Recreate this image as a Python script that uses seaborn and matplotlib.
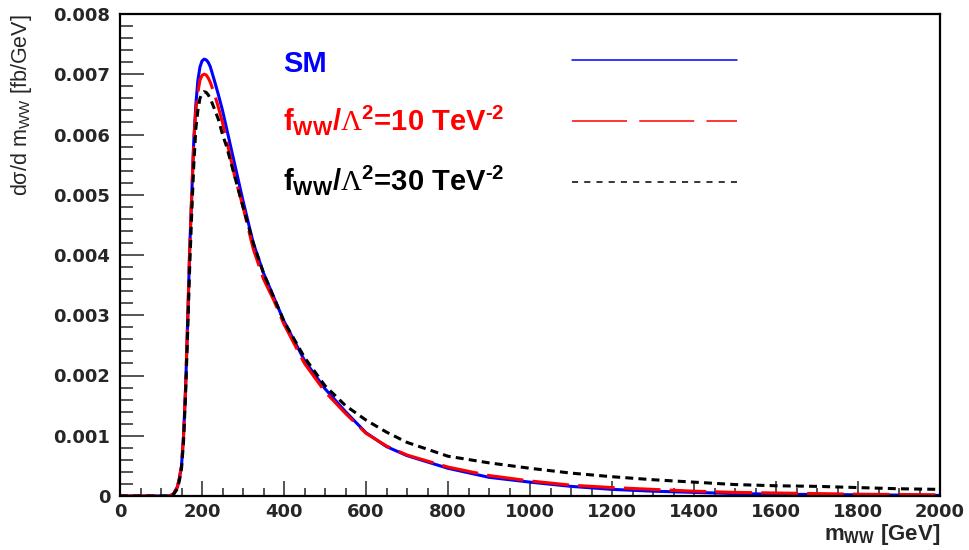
import matplotlib
matplotlib.use("Agg")
import matplotlib.pyplot as plt
from matplotlib.ticker import MultipleLocator, FuncFormatter
import pandas as pd
import seaborn as sns

# WW invariant-mass bins [GeV]
m_ww = [0, 100, 120, 130, 140, 145, 150, 155, 160, 165, 170, 175, 180, 185, 190,
        195, 200, 205, 210, 215, 220, 230, 240, 250, 260, 280, 300, 325, 350,
        375, 400, 450, 500, 550, 600, 650, 700, 800, 900, 1000, 1100, 1200,
        1300, 1400, 1500, 1600, 1700, 1800, 1900, 2000]

# dsigma/dm_WW [fb/GeV]
sm = [0, 0, 0, 0.00003, 0.00015, 0.0003, 0.0005, 0.0010, 0.0018, 0.0029, 0.0041,
      0.0050, 0.0059, 0.0065, 0.0069, 0.00712, 0.00722, 0.00725, 0.00724,
      0.0072, 0.00713, 0.0069, 0.00666, 0.0064, 0.0061, 0.0055, 0.0049, 0.0042,
      0.0037, 0.0033, 0.0029, 0.00225, 0.00178, 0.0014, 0.00105, 0.00082,
      0.00067, 0.00046, 0.00031, 0.00023, 0.00016, 0.00011, 0.00008, 0.00006,
      0.00004, 0.00003, 0.000025, 0.00002, 0.000015, 0.00001]

fww10 = [0, 0, 0, 0.00003, 0.00015, 0.0003, 0.0005, 0.0010, 0.0018, 0.0029, 0.0041,
         0.0050, 0.0059, 0.0064, 0.0067, 0.0069, 0.00698, 0.0070, 0.00699,
         0.00694, 0.00687, 0.00668, 0.00645, 0.0062, 0.0059, 0.0053, 0.0048,
         0.0041, 0.0036, 0.00325, 0.00285, 0.0022, 0.00173, 0.00137, 0.00104,
         0.00083, 0.00068, 0.00048, 0.00034, 0.00025, 0.00018, 0.00014, 0.00011,
         0.00008, 0.00006, 0.00005, 0.00004, 0.00003, 0.000025, 0.00002]

fww30 = [0, 0, 0, 0.00002, 0.00012, 0.00026, 0.00045, 0.0009, 0.0017, 0.0027, 0.0038,
         0.0047, 0.0055, 0.0061, 0.0064, 0.0066, 0.00668, 0.00671, 0.0067,
         0.00666, 0.0066, 0.00643, 0.00625, 0.0060, 0.0058, 0.0053, 0.0048,
         0.0042, 0.0037, 0.0033, 0.0029, 0.0023, 0.00183, 0.0015, 0.00126,
         0.00106, 0.00089, 0.00066, 0.00055, 0.00046, 0.00038, 0.00032, 0.00027,
         0.00023, 0.00019, 0.00017, 0.00016, 0.00014, 0.00012, 0.00011]

models = ["SM", "fww10", "fww30"]
labels = {
    "SM": "SM",
    "fww10": r"f$_{WW}$/$\mathrm{\Lambda}^{2}$=10 TeV$^{‐2}$",
    "fww30": r"f$_{WW}$/$\mathrm{\Lambda}^{2}$=30 TeV$^{‐2}$",
}
colors = {"SM": "#0000ff", "fww10": "#ff0000", "fww30": "#000000"}
curve_dashes = {"SM": "", "fww10": (12, 3), "fww30": (2.6, 1.7)}
key_dashes = {"SM": None, "fww10": (36, 8), "fww30": (4, 4)}

df = pd.DataFrame({
    "m": m_ww * 3,
    "xsec": sm + fww10 + fww30,
    "model": ["SM"] * len(m_ww) + ["fww10"] * len(m_ww) + ["fww30"] * len(m_ww),
})

sns.set_theme(style="ticks")
plt.rcParams["font.family"] = ["Liberation Sans", "DejaVu Sans"]
plt.rcParams["mathtext.fontset"] = "custom"
plt.rcParams["mathtext.rm"] = "Liberation Serif"
plt.rcParams["mathtext.bf"] = "Liberation Sans:bold"
plt.rcParams["mathtext.default"] = "bf"

fig = plt.figure(figsize=(9.69, 5.5), dpi=100)
ax = fig.add_axes([120 / 969, 1 - 496 / 550, 820 / 969, 482 / 550])

sns.lineplot(data=df, x="m", y="xsec", hue="model", style="model",
             palette=colors, dashes=curve_dashes, hue_order=models,
             style_order=models, linewidth=2.2, estimator=None,
             legend=False, ax=ax)

ax.set_xlim(0, 2000)
ax.set_ylim(0, 0.008)

ax.xaxis.set_major_locator(MultipleLocator(200))
ax.xaxis.set_minor_locator(MultipleLocator(50))
ax.yaxis.set_major_locator(MultipleLocator(0.001))
ax.yaxis.set_minor_locator(MultipleLocator(0.0002))
ax.yaxis.set_major_formatter(FuncFormatter(lambda v, p: "0" if abs(v) < 1e-9 else f"{v:.3f}"))
ax.xaxis.set_major_formatter(FuncFormatter(lambda v, p: f"{v:.0f}"))

ax.tick_params(axis="x", which="major", direction="in", length=11, width=1.1,
               labelsize=13, pad=5)
ax.tick_params(axis="x", which="minor", direction="in", length=5.5, width=1.1)
ax.tick_params(axis="y", which="major", direction="in", length=17, width=1.1,
               labelsize=13, pad=7)
ax.tick_params(axis="y", which="minor", direction="in", length=9, width=1.1)
for lab in ax.get_xticklabels() + ax.get_yticklabels():
    lab.set_fontweight("bold")
    lab.set_family("DejaVu Sans")

for side in ["left", "bottom", "top", "right"]:
    ax.spines[side].set_visible(True)
    ax.spines[side].set_color("black")
    ax.spines[side].set_linewidth(1.6)

ax.set_xlabel(r"m$_{WW}$ [GeV]", fontsize=16, fontweight="bold", loc="right",
              labelpad=1)
ax.set_ylabel(r"dσ/d m$_{\mathregular{WW}}$ [fb/GeV]", fontsize=15.5,
              loc="top", labelpad=14)

# legend drawn as text entries followed by line keys
text_x = 0.199
text_y = {"SM": 0.880, "fww10": 0.759, "fww30": 0.635}
key_x = (0.551, 0.752)
key_y = {"SM": 0.9046, "fww10": 0.7786, "fww30": 0.652}
for key in models:
    ax.text(text_x, text_y[key], labels[key], transform=ax.transAxes,
            ha="left", va="baseline", fontsize=21, fontweight="bold",
            color=colors[key])
    line, = ax.plot(key_x, (key_y[key], key_y[key]), transform=ax.transAxes,
                    color=colors[key], lw=1.1)
    if key_dashes[key] is not None:
        line.set_dashes(key_dashes[key])

fig.savefig("out.png", dpi=100, facecolor="white")
